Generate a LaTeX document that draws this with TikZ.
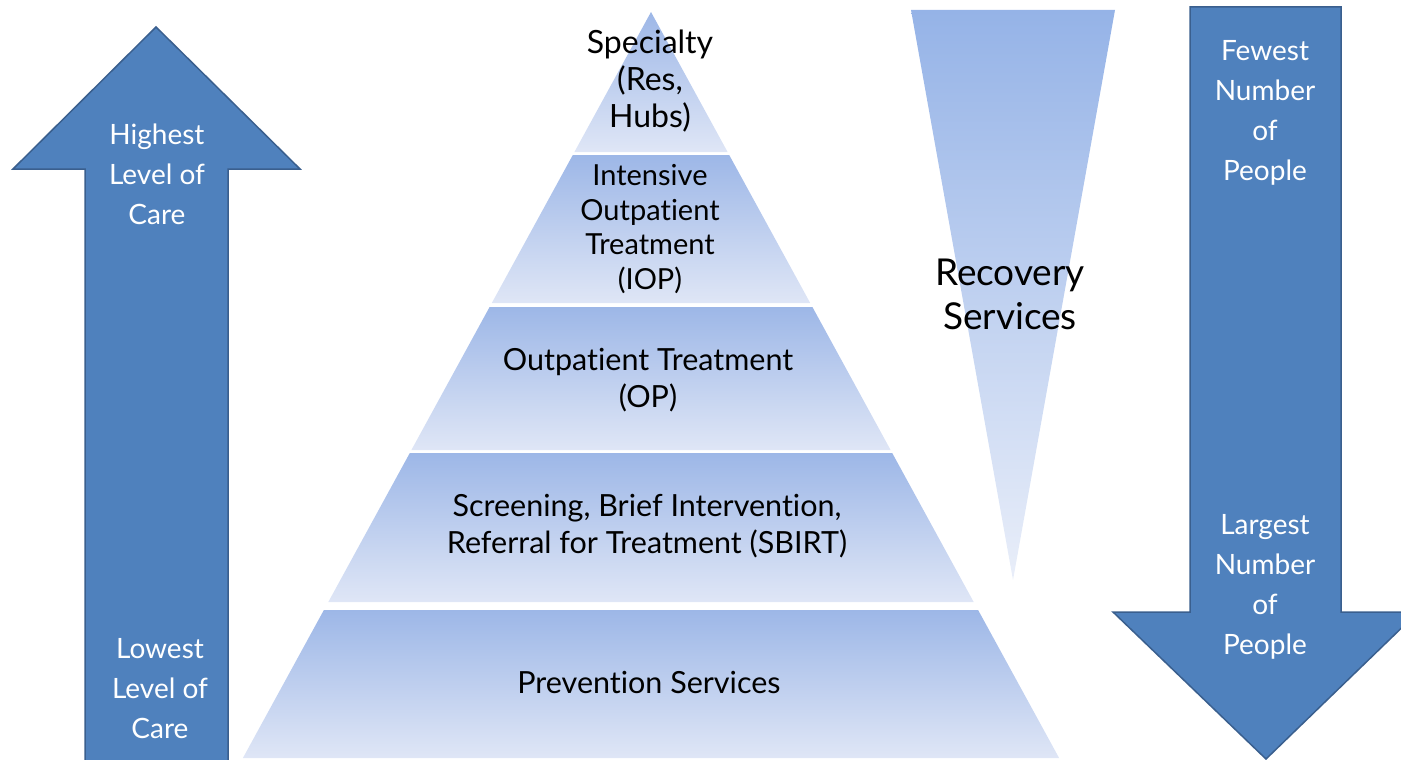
\documentclass[tikz,border=0pt]{standalone}
\usepackage{fontspec}
\setmainfont{Lato}[RawFeature={-liga;-clig}]
\definecolor{arrowfill}{HTML}{4F81BD}
\definecolor{arrowline}{HTML}{3A5F8E}
\definecolor{bandtop}{HTML}{9DB7E7}
\definecolor{bandbot}{HTML}{DFE6F6}
\definecolor{rectop}{HTML}{95B3E7}
\definecolor{recbot}{HTML}{E9EEF9}
\begin{document}
\begin{tikzpicture}[x=1pt,y=-1pt,
  bigarrow/.style={fill=arrowfill,draw=arrowline,line width=1.5pt,line join=miter},
  band/.style={top color=bandtop,bottom color=bandbot,draw=none},
  lbl/.style={align=center,font=\fontsize{30.5}{37}\selectfont,text=black,inner sep=0pt},
  albl/.style={align=center,font=\fontsize{28}{40}\selectfont,text=white,inner sep=0pt},
  reclbl/.style={align=center,font=\fontsize{37}{44}\selectfont,text=black,inner sep=0pt}]
\useasboundingbox (0,0) rectangle (1401,760);
\clip (0,0) rectangle (1401,760);
% left up arrow
\draw[bigarrow] (156,27) -- (300,169) -- (228,169) -- (228,765) -- (85,765) -- (85,169) -- (13,169) -- cycle;
% right down arrow
\draw[bigarrow] (1190,7) -- (1341,7) -- (1341,612) -- (1418,612) -- (1266,759) -- (1113,612) -- (1190,612) -- cycle;
% recovery triangle
\shade[top color=rectop,bottom color=recbot] (911,10) -- (1115,10) -- (1013,580) -- cycle;
% pyramid bands
\shade[band] (651,12) -- (727.6,152) -- (574.4,152) -- cycle;
\shade[band] (572.8,155) -- (729.2,155) -- (810.2,303) -- (491.8,303) -- cycle;
\shade[band] (489.6,307) -- (812.4,307) -- (890.6,450) -- (411.4,450) -- cycle;
\shade[band] (409.8,453) -- (892.2,453) -- (973.7,602) -- (328.3,602) -- cycle;
\shade[band] (323.9,610) -- (978.1,610) -- (1059.1,758) -- (242.9,758) -- cycle;
% labels
\node[lbl,font=\fontsize{32}{37}\selectfont] (spec) at (650,81) {Specialty\\(Res,\\Hubs)};
\node[lbl,font=\fontsize{29}{34.5}\selectfont] (iop) at (650,229) {Intensive\\Outpatient\\Treatment\\(IOP)};
\node[lbl] (op) at (648,380) {Outpatient Treatment\\(OP)};
\node[lbl] (sbirt) at (647,526) {Screening, Brief Intervention,\\Referral for Treatment (SBIRT)};
\node[lbl] (prev) at (649,682) {Prevention Services};
\node[reclbl] (rec) at (1010,294) {Recovery\\Services};
\node[albl] (high) at (157,174) {Highest\\Level of\\Care};
\node[albl] (low) at (160,689) {Lowest\\Level of\\Care};
\node[albl] (few) at (1265,113) {Fewest\\Number\\of\\People};
\node[albl] (large) at (1265,587) {Largest\\Number\\of\\People};
\end{tikzpicture}
\end{document}
